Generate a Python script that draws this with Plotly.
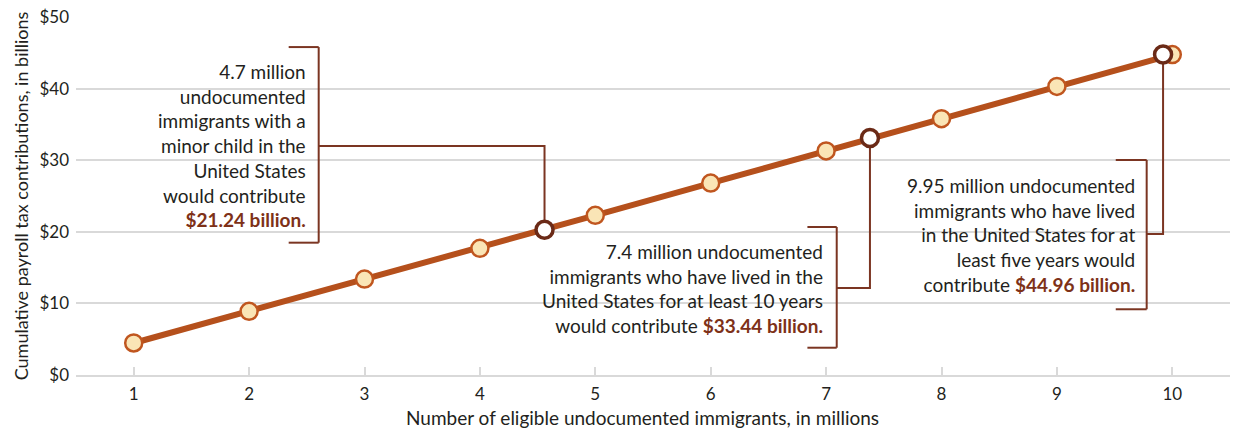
import plotly.graph_objects as go

# ---- data ----
immigrants_millions = [1, 2, 3, 4, 5, 6, 7, 8, 9, 10]
payroll_billions = [4.47, 8.9, 13.4, 17.7, 22.3, 26.8, 31.3, 35.8, 40.3, 44.75]

highlight_x = [4.56, 7.38, 9.92]
highlight_y = [20.3, 33.1, 44.75]

annotation_texts = [
    "4.7 million<br>undocumented<br>immigrants with a<br>minor child in the<br>United States<br>would contribute<br><b><span style='color:#7E3118'>$21.24 billion.</span></b>",
    "7.4 million undocumented<br>immigrants who have lived in the<br>United States for at least 10 years<br>would contribute <b><span style='color:#7E3118'>$33.44 billion.</span></b>",
    "9.95 million undocumented<br>immigrants who have lived<br>in the United States for at<br>least five years would<br>contribute <b><span style='color:#7E3118'>$44.96 billion.</span></b>",
]

y_ticks = [0, 10, 20, 30, 40, 50]
y_tick_labels = ["$0", "$10", "$20", "$30", "$40", "$50"]
x_ticks = [1, 2, 3, 4, 5, 6, 7, 8, 9, 10]
x_title = "Number of eligible undocumented immigrants, in millions"
y_title = "Cumulative payroll tax contributions, in billions"

# ---- layout helpers (annotation geometry in data units) ----
text_x = [2.50, 6.98, 9.685]
text_y = [32.1, 12.05, 19.5]
bracket_x = [2.603, 7.092, 9.778]
bracket_left = [2.343, 6.838, 9.51]
bracket_top = [45.8, 20.67, 30.03]
bracket_bottom = [18.48, 3.81, 9.18]
connector_y = [31.98, 12.15, 19.69]

FONT = "Lato"
TEXT = "#231F20"
LINE = "#B5501C"
BRACKET = "#7B3522"
GRID = "#D9D9D9"

fig = go.Figure()

fig.add_trace(go.Scatter(
    x=immigrants_millions, y=payroll_billions, mode="lines+markers",
    line=dict(color=LINE, width=6),
    marker=dict(size=17, color="#FAE5B6", line=dict(color="#C0561F", width=2.5)),
    hoverinfo="skip", showlegend=False,
))
fig.add_trace(go.Scatter(
    x=highlight_x, y=highlight_y, mode="markers",
    marker=dict(size=17, color="white", line=dict(color="#6B2A17", width=3.5)),
    hoverinfo="skip", showlegend=False,
))

shapes = []
for i in range(3):
    ln = dict(color=BRACKET, width=2)
    shapes.append(dict(type="line", xref="x", yref="y", x0=bracket_x[i], x1=bracket_x[i],
                       y0=bracket_bottom[i], y1=bracket_top[i], line=ln, layer="between"))
    shapes.append(dict(type="line", xref="x", yref="y", x0=bracket_left[i], x1=bracket_x[i],
                       y0=bracket_top[i], y1=bracket_top[i], line=ln, layer="between"))
    shapes.append(dict(type="line", xref="x", yref="y", x0=bracket_left[i], x1=bracket_x[i],
                       y0=bracket_bottom[i], y1=bracket_bottom[i], line=ln, layer="between"))
    shapes.append(dict(type="path", xref="x", yref="y",
                       path=f"M {bracket_x[i]},{connector_y[i]} L {highlight_x[i]},{connector_y[i]} L {highlight_x[i]},{highlight_y[i]}",
                       line=ln, layer="between"))

annotations = []
for i in range(3):
    annotations.append(dict(
        x=text_x[i], y=text_y[i], xref="x", yref="y", text=annotation_texts[i],
        showarrow=False, xanchor="right", yanchor="middle", align="right",
        font=dict(family=FONT, size=19, color=TEXT), borderpad=0,
    ))
annotations.append(dict(
    x=0.4905, y=-0.12, xref="paper", yref="paper", text=x_title, showarrow=False,
    xanchor="center", yanchor="middle", font=dict(family=FONT, size=19, color=TEXT),
))

fig.update_layout(
    width=1238, height=431,
    margin=dict(l=76, r=8, t=17, b=56),
    paper_bgcolor="white", plot_bgcolor="white",
    font=dict(family=FONT, color=TEXT, size=17),
    shapes=shapes, annotations=annotations,
    xaxis=dict(
        range=[0.5, 10.5], tickvals=x_ticks, showgrid=False, zeroline=False,
        showline=True, linecolor=GRID, linewidth=2, automargin=False,
        ticks="inside", ticklen=8, tickwidth=2, tickcolor=GRID, ticklabelstandoff=3,
        tickfont=dict(family=FONT, size=17, color=TEXT),
    ),
    yaxis=dict(
        range=[0, 50], tickvals=y_ticks, ticktext=y_tick_labels, showgrid=True,
        gridcolor=GRID, gridwidth=2, zeroline=False, showline=False, automargin=False,
        tickfont=dict(family=FONT, size=17, color=TEXT), ticklabelstandoff=6,
        title=dict(text=y_title, font=dict(family=FONT, size=18, color=TEXT), standoff=6),
    ),
)

fig.write_html("out.html")
